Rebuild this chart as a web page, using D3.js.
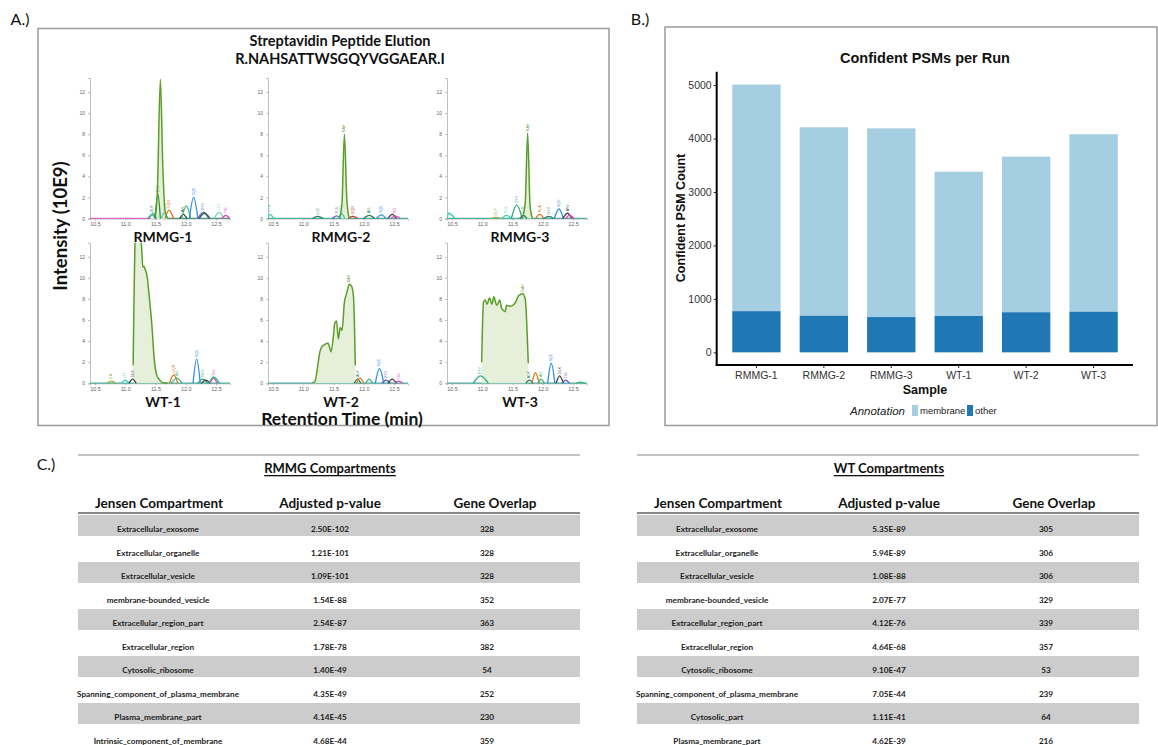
<!DOCTYPE html>
<html>
<head>
<meta charset="utf-8">
<script src="https://cdn.jsdelivr.net/npm/d3@7"></script>
<style>
  body { margin: 0; background: #fff; }
  svg { display: block; }
</style>
</head>
<body>
<svg id="fig" width="1158" height="745"></svg>
<script>
// ---- Panel A: chromatogram data (retention time in min, intensity in 10E9) ----
const RUNS = ["RMMG-1", "RMMG-2", "RMMG-3", "WT-1", "WT-2", "WT-3"];
const TIME_TICKS = [10.5, 11.0, 11.5, 12.0, 12.5];
const INTENSITY_TICKS = [0, 2, 4, 6, 8, 10, 12];

// main streptavidin peptide trace per run: [time, intensity]
const mainRMMG1 = [[11.49, 0], [11.53, 2.5], [11.58, 13.2], [11.62, 5], [11.66, 0.6], [11.70, 0]];
const mainRMMG2 = [[11.60, 0], [11.64, 1.5], [11.68, 8.0], [11.72, 1.8], [11.76, 0]];
const mainRMMG3 = [[11.66, 0], [11.71, 1.5], [11.75, 8.1], [11.79, 1.2], [11.83, 0]];
const mainWT1 = [[11.13, 1.7], [11.17, 14.5], [11.22, 15], [11.27, 12.9], [11.29, 11.0], [11.31, 11.1],
  [11.33, 10.8], [11.36, 10.2], [11.40, 8.0], [11.44, 5.5], [11.48, 2.2], [11.52, 0.8], [11.57, 0.3], [11.62, 0.05], [11.70, 0]];
const mainWT2 = [[11.15, 0.05], [11.19, 0.15], [11.28, 3.1], [11.30, 3.4], [11.41, 3.8], [11.46, 3.0], [11.50, 4.6],
  [11.52, 5.7], [11.55, 5.9], [11.58, 4.2], [11.61, 5.3], [11.64, 5.0], [11.68, 7.7], [11.72, 8.6], [11.76, 9.4],
  [11.80, 9.2], [11.83, 8.2], [11.86, 1.7]];
const mainWT3 = [[10.99, 2.0], [11.02, 7.7], [11.05, 7.9], [11.08, 7.5], [11.12, 8.1], [11.16, 7.5], [11.19, 8.2],
  [11.24, 7.4], [11.29, 7.9], [11.32, 7.1], [11.38, 6.8], [11.40, 7.4], [11.46, 7.3], [11.54, 7.6], [11.60, 8.3],
  [11.67, 8.5], [11.71, 8.0], [11.76, 1.9]];

// other co-eluting peptides: [start, apex, end, height, colour, tag]
const peaksRMMG1 = [
  [11.38, 11.44, 11.50, 0.4, "#2a7f62", "DLK"], [11.40, 11.46, 11.52, 0.5, "#3ccfb4", ""],
  [11.49, 11.54, 11.58, 2.3, "#2e8b3a", "EYV"], [11.60, 11.65, 11.70, 0.6, "#3ccfb4", "TLS"],
  [11.66, 11.72, 11.80, 0.8, "#e0701a", "GQR"], [11.90, 11.96, 12.02, 0.4, "#404040", "AVL"],
  [11.93, 12.01, 12.08, 1.2, "#3cb878", ""], [12.06, 12.13, 12.20, 2.0, "#2f8fe0", "SQE"],
  [12.20, 12.29, 12.38, 0.6, "#6a5acd", "DYV"], [12.22, 12.31, 12.40, 0.5, "#2a5a40", ""],
  [12.47, 12.55, 12.63, 0.6, "#66d9b0", "LTV"], [12.60, 12.66, 12.73, 0.3, "#e040c0", "TIG"]];
const peaksRMMG2 = [
  [10.42, 10.44, 10.52, 0.4, "#3ccfb4", "GYA"], [11.15, 11.24, 11.33, 0.2, "#2a7f62", "LLE"],
  [11.48, 11.55, 11.62, 0.25, "#6a5acd", "YLS"], [11.58, 11.63, 11.69, 0.45, "#3ccfb4", "EYV"],
  [11.74, 11.82, 11.90, 0.2, "#c0392b", "GQR"], [12.00, 12.09, 12.18, 0.3, "#2a7f62", "AVL"],
  [12.21, 12.29, 12.37, 0.35, "#2f8fe0", "SQE"], [12.40, 12.47, 12.54, 0.4, "#404040", ""],
  [12.45, 12.52, 12.60, 0.25, "#e040c0", "TIG"]];
const peaksRMMG3 = [
  [10.42, 10.44, 10.55, 0.5, "#3ccfb4", ""], [11.15, 11.22, 11.30, 0.1, "#a0b030", "DLP"],
  [11.32, 11.40, 11.48, 0.3, "#3ccfb4", "YLS"], [11.48, 11.57, 11.66, 1.3, "#2aa87a", "EYV"],
  [11.62, 11.68, 11.74, 0.3, "#2a7f62", "TLS"], [11.88, 11.95, 12.02, 0.4, "#e0701a", "NLA"],
  [12.02, 12.10, 12.18, 0.2, "#2a7f62", "GYV"], [12.19, 12.27, 12.34, 0.9, "#2f8fe0", "SQE"],
  [12.33, 12.41, 12.48, 0.5, "#404040", "AYV"], [12.38, 12.44, 12.52, 0.3, "#e040c0", ""]];
const peaksWT1 = [
  [10.70, 10.77, 10.84, 0.2, "#a0b030", "ILA"], [10.94, 11.00, 11.06, 0.3, "#3ccfb4", "LTT"],
  [11.06, 11.12, 11.18, 0.4, "#404040", "DLK"], [11.73, 11.80, 11.87, 0.8, "#e0701a", "GQR"],
  [11.76, 11.85, 11.94, 0.5, "#3cb878", "AVL"], [12.12, 12.18, 12.24, 2.3, "#2f8fe0", "SQE"],
  [12.20, 12.28, 12.36, 0.4, "#2aa87a", "DYV"], [12.26, 12.33, 12.40, 0.3, "#404040", ""],
  [12.40, 12.46, 12.52, 0.5, "#e040c0", "TIG"], [12.38, 12.46, 12.56, 0.6, "#3cb878", ""]];
const peaksWT2 = [
  [11.84, 11.90, 11.95, 0.4, "#2a7f62", "ALK"], [11.88, 11.94, 12.00, 0.5, "#e0701a", ""],
  [12.03, 12.09, 12.15, 0.4, "#3cb878", ""], [12.19, 12.26, 12.33, 1.4, "#2f8fe0", "SQE"],
  [12.30, 12.37, 12.44, 0.3, "#6a5acd", "DYV"], [12.40, 12.47, 12.54, 0.4, "#404040", ""],
  [12.52, 12.58, 12.64, 0.2, "#e040c0", "TIG"]];
const peaksWT3 = [
  [10.85, 10.97, 11.10, 0.7, "#2aa87a", "EYV"], [11.72, 11.78, 11.84, 0.3, "#2a7f62", "ALK"],
  [11.82, 11.88, 11.94, 1.0, "#e0701a", ""], [11.92, 11.97, 12.03, 0.4, "#3cb878", "AVL"],
  [12.08, 12.14, 12.20, 1.9, "#2f8fe0", "SQE"], [12.22, 12.28, 12.34, 0.7, "#404040", "DLK"],
  [12.32, 12.38, 12.44, 0.3, "#6a5acd", "TIG"], [12.55, 12.62, 12.70, 0.1, "#3cb878", ""]];

// flat baseline traces: [from, to, colour]
const baseRMMG1 = [[10.42, 11.42, "#e040c0"], [11.70, 12.73, "#2a7f62"]];
const baseOther = [[10.42, 12.73, "#2a9d8f"]];

const MAIN_TRACES = [mainRMMG1, mainRMMG2, mainRMMG3, mainWT1, mainWT2, mainWT3];
const SIDE_PEAKS = [peaksRMMG1, peaksRMMG2, peaksRMMG3, peaksWT1, peaksWT2, peaksWT3];
const BASELINES = [baseRMMG1, baseOther, baseOther, baseOther, baseOther, baseOther];

// ---- Panel B: confident PSMs per run ----
const SAMPLES = ["RMMG-1", "RMMG-2", "RMMG-3", "WT-1", "WT-2", "WT-3"];
const otherCounts = [770, 685, 660, 680, 750, 760];
const membraneCounts = [4240, 3525, 3530, 2700, 2910, 3320];
const PSM_TICKS = [0, 1000, 2000, 3000, 4000, 5000];

// ---- Panel C: compartment enrichment tables ----
const TABLE_HEADERS = ["Jensen Compartment", "Adjusted p-value", "Gene Overlap"];
const rmmgTerms = ["Extracellular_exosome", "Extracellular_organelle", "Extracellular_vesicle",
  "membrane-bounded_vesicle", "Extracellular_region_part", "Extracellular_region", "Cytosolic_ribosome",
  "Spanning_component_of_plasma_membrane", "Plasma_membrane_part", "Intrinsic_component_of_membrane"];
const rmmgPValues = ["2.50E-102", "1.21E-101", "1.09E-101", "1.54E-88", "2.54E-87", "1.78E-78", "1.40E-49",
  "4.35E-49", "4.14E-45", "4.68E-44"];
const rmmgOverlap = [328, 328, 328, 352, 363, 382, 54, 252, 230, 359];
const wtTerms = ["Extracellular_exosome", "Extracellular_organelle", "Extracellular_vesicle",
  "membrane-bounded_vesicle", "Extracellular_region_part", "Extracellular_region", "Cytosolic_ribosome",
  "Spanning_component_of_plasma_membrane", "Cytosolic_part", "Plasma_membrane_part"];
const wtPValues = ["5.35E-89", "5.94E-89", "1.08E-88", "2.07E-77", "4.12E-76", "4.64E-68", "9.10E-47",
  "7.05E-44", "1.11E-41", "4.62E-39"];
const wtOverlap = [305, 306, 306, 329, 339, 357, 53, 239, 64, 216];

(function () {
  const FONT_SANS = "Lato, 'Open Sans', sans-serif";
  const FONT_R = "'Liberation Sans', Arial, sans-serif";

  const PLOT_X = [90, 268, 447];
  const PLOT_BOTTOM = [218.5, 383.3];
  const PLOT_W = 140;
  const PLOT_H = 140.5;
  const TIME_DOMAIN = [10.417, 12.731];
  const INTENSITY_DOMAIN = [0, 13.33];

  const svg = d3.select("#fig");

  drawPanelA();
  drawPanelB();
  drawPanelC();

  function label(x, y, text, size, opts = {}) {
    return svg.append("text")
      .attr("x", x).attr("y", y)
      .attr("text-anchor", opts.anchor || "middle")
      .attr("dominant-baseline", "central")
      .attr("font-family", opts.family || FONT_SANS)
      .attr("font-weight", opts.weight || "normal")
      .attr("font-style", opts.style || "normal")
      .attr("font-size", size)
      .attr("fill", opts.fill || "#111")
      .text(text);
  }

  function drawPanelA() {
    label(20, 18, "A.)", 16);
    svg.append("rect").attr("x", 38).attr("y", 28.5).attr("width", 571).attr("height", 397)
      .attr("fill", "none").attr("stroke", "#9a9a9a").attr("stroke-width", 1.5);
    label(340, 40, "Streptavidin Peptide Elution", 14.5, { weight: "bold" });
    label(340, 58, "R.NAHSATTWSGQYVGGAEAR.I", 14.5, { weight: "bold" });
    label(60, 226, "Intensity (10E9)", 18.5, { weight: "bold" })
      .attr("transform", "rotate(-90,60,226)");
    label(342, 418, "Retention Time (min)", 17.5, { weight: "bold" });

    RUNS.forEach((run, i) => drawChromatogram(run, i));
  }

  function drawChromatogram(run, i) {
    const col = i % 3, row = Math.floor(i / 3);
    const x0 = PLOT_X[col], yb = PLOT_BOTTOM[row];
    const x = d3.scaleLinear().domain(TIME_DOMAIN).range([x0, x0 + PLOT_W]);
    const y = d3.scaleLinear().domain(INTENSITY_DOMAIN).range([yb, yb - PLOT_H]);
    const g = svg.append("g");

    const clipId = "clip" + i;
    g.append("clipPath").attr("id", clipId)
      .append("rect").attr("x", x0).attr("y", yb - PLOT_H).attr("width", PLOT_W).attr("height", PLOT_H + 1);

    const yAxis = g.append("g").attr("transform", `translate(${x0},0)`)
      .call(d3.axisLeft(y).tickValues(INTENSITY_TICKS).tickSize(2).tickPadding(3));
    const xAxis = g.append("g").attr("transform", `translate(0,${yb})`)
      .call(d3.axisBottom(x).tickValues(TIME_TICKS).tickFormat(d3.format(".1f")).tickSize(2).tickPadding(2));
    [yAxis, xAxis].forEach(a => {
      a.selectAll("path, line").attr("stroke", "#b0b0b0").attr("stroke-width", 0.8);
      a.selectAll("text").attr("font-size", 5.5).attr("fill", "#666").attr("font-family", FONT_R);
    });
    yAxis.selectAll(".tick text").attr("font-size", 5);

    const plot = g.append("g").attr("clip-path", `url(#${clipId})`);
    const line = d3.line().x(d => x(d[0])).y(d => y(d[1])).curve(d3.curveMonotoneX);
    const area = d3.area().x(d => x(d[0])).y0(y(0)).y1(d => y(d[1])).curve(d3.curveMonotoneX);

    BASELINES[i].forEach(b => {
      plot.append("path").attr("d", line([[b[0], 0.02], [b[1], 0.02]]))
        .attr("stroke", b[2]).attr("stroke-width", 1).attr("fill", "none");
    });

    const main = MAIN_TRACES[i];
    plot.append("path").attr("d", area(main))
      .attr("fill", "#e2edd6").attr("fill-opacity", 0.9);

    SIDE_PEAKS[i].forEach(p => {
      const pts = [[p[0], 0], [p[1], p[3]], [p[2], 0]];
      plot.append("path").attr("d", line(pts))
        .attr("stroke", p[4]).attr("stroke-width", 1.3).attr("fill", "none");
      if (p[5]) {
        const tx = x(p[1]), ty = y(p[3]) - 2;
        plot.append("text").attr("x", tx).attr("y", ty)
          .attr("transform", `rotate(-90,${tx},${ty})`)
          .attr("dominant-baseline", "central")
          .attr("font-family", FONT_R).attr("font-size", 3.6).attr("fill", p[4])
          .text(p[5]);
      }
    });

    plot.append("path").attr("d", line(main))
      .attr("stroke", "#5a9e2a").attr("stroke-width", 1.5).attr("fill", "none");

    const apex = main.reduce((a, b) => (b[1] > a[1] ? b : a));
    if (apex[1] < 12.5) {
      const tx = x(apex[0]), ty = y(apex[1]) - 2;
      plot.append("text").attr("x", tx).attr("y", ty)
        .attr("transform", `rotate(-90,${tx},${ty})`)
        .attr("dominant-baseline", "central")
        .attr("font-family", FONT_R).attr("font-size", 3.6).attr("fill", "#5a9e2a")
        .text("NAH");
    }

    label(x0 + 73, row === 0 ? 236 : 401, run, 14, { weight: "bold" });
  }

  function drawPanelB() {
    label(640, 18, "B.)", 16);
    svg.append("rect").attr("x", 665).attr("y", 27).attr("width", 492).attr("height", 398.5)
      .attr("fill", "none").attr("stroke", "#9a9a9a").attr("stroke-width", 1.5);

    const x = d3.scaleBand().domain(SAMPLES).range([722.8, 1127.2]).paddingInner(0.283).paddingOuter(0.14);
    const y = d3.scaleLinear().domain([-237, 5250]).range([365, 71.7]);
    const g = svg.append("g");

    const stacked = SAMPLES.map((s, i) => ({ s, other: otherCounts[i], total: otherCounts[i] + membraneCounts[i] }));
    g.selectAll(".mem").data(stacked).enter().append("rect")
      .attr("x", d => x(d.s)).attr("width", x.bandwidth())
      .attr("y", d => y(d.total)).attr("height", d => y(d.other) - y(d.total))
      .attr("fill", "#a6cee3");
    g.selectAll(".oth").data(stacked).enter().append("rect")
      .attr("x", d => x(d.s)).attr("width", x.bandwidth())
      .attr("y", d => y(d.other)).attr("height", d => y(0) - y(d.other))
      .attr("fill", "#1f78b4");

    const yAxis = g.append("g").attr("transform", "translate(716.7,0)")
      .call(d3.axisLeft(y).tickValues(PSM_TICKS).tickFormat(d3.format("d")).tickSize(3).tickPadding(2));
    const xAxis = g.append("g").attr("transform", "translate(0,365)")
      .call(d3.axisBottom(x).tickSize(3).tickPadding(4));
    [yAxis, xAxis].forEach(a => {
      a.select(".domain").remove();
      a.selectAll("line").attr("stroke", "#222");
      a.selectAll("text").attr("font-size", 10.5).attr("fill", "#333").attr("font-family", FONT_R);
    });
    g.append("line").attr("x1", 716.7).attr("x2", 716.7).attr("y1", 71.7).attr("y2", 366)
      .attr("stroke", "#000").attr("stroke-width", 2);
    g.append("line").attr("x1", 715.7).attr("x2", 1133).attr("y1", 365).attr("y2", 365)
      .attr("stroke", "#000").attr("stroke-width", 2);

    label(925, 58, "Confident PSMs per Run", 14.5, { weight: "bold", family: FONT_R });
    label(925, 390, "Sample", 12.5, { weight: "bold", family: FONT_R });
    label(681, 218, "Confident PSM Count", 12.5, { weight: "bold", family: FONT_R })
      .attr("transform", "rotate(-90,681,218)");

    label(905, 411, "Annotation", 11.5, { anchor: "end", style: "italic", family: FONT_R, fill: "#222" });
    svg.append("rect").attr("x", 912).attr("y", 405).attr("width", 6).attr("height", 11).attr("fill", "#a6cee3");
    label(920, 410.5, "membrane", 9.5, { anchor: "start", family: FONT_R, fill: "#222" });
    svg.append("rect").attr("x", 967).attr("y", 405).attr("width", 6).attr("height", 11).attr("fill", "#1f78b4");
    label(975, 410.5, "other", 9.5, { anchor: "start", family: FONT_R, fill: "#222" });
  }

  function drawPanelC() {
    label(46, 463, "C.)", 16);
    drawTable(78, "RMMG Compartments", rmmgTerms, rmmgPValues, rmmgOverlap);
    drawTable(637, "WT Compartments", wtTerms, wtPValues, wtOverlap);
  }

  function drawTable(x0, title, terms, pvals, overlaps) {
    const W = 502, ROW_H = 23.5, ROW_TOP = 515;
    const colX = [x0 + 80, x0 + 252, x0 + 409];
    const headX = [x0 + 81, x0 + 252, x0 + 417];
    const g = svg.append("g");

    g.append("line").attr("x1", x0).attr("x2", x0 + W).attr("y1", 455).attr("y2", 455)
      .attr("stroke", "#888").attr("stroke-width", 1.2);
    label(x0 + 252, 468, title, 13, { weight: "bold" }).attr("text-decoration", "underline");
    TABLE_HEADERS.forEach((h, j) => label(headX[j], 503, h, 13.5, { weight: "bold" }));

    terms.forEach((t, r) => {
      const top = ROW_TOP + r * ROW_H;
      if (r % 2 === 0) {
        g.append("rect").attr("x", x0).attr("y", top).attr("width", W).attr("height", 21)
          .attr("fill", "#cccccc");
      }
      [t, pvals[r], String(overlaps[r])].forEach((v, j) => {
        label(colX[j], top + 14, v, 8.2, { weight: "bold", fill: "#222" });
      });
    });
    g.append("line").attr("x1", x0).attr("x2", x0 + W).attr("y1", 513).attr("y2", 513)
      .attr("stroke", "#888").attr("stroke-width", 2);
  }
})();
</script>
</body>
</html>
